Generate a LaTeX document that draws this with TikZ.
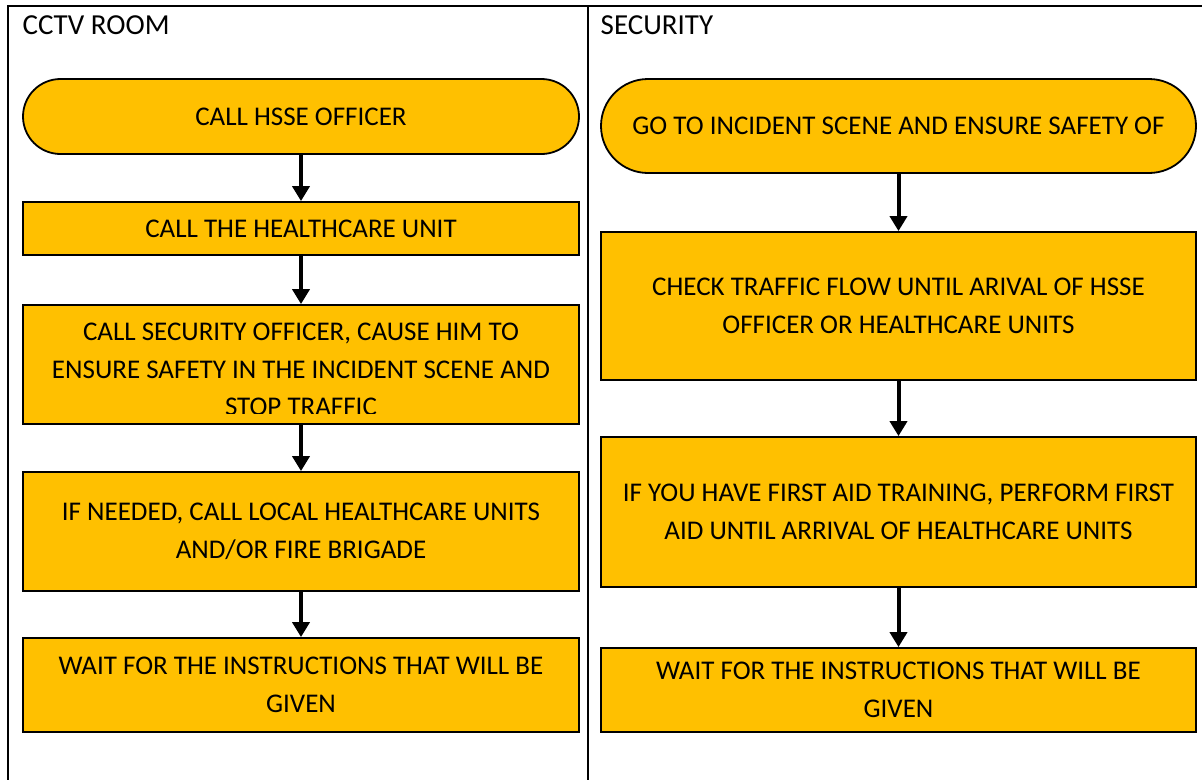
\documentclass[tikz,border=0pt]{standalone}
\usepackage{fontspec}
\setmainfont{Carlito}
\usetikzlibrary{arrows.meta}
\definecolor{gold}{HTML}{FFC000}
\tikzset{
  frameline/.style={line width=2pt, draw=black},
  boxnode/.style={draw=black, line width=1.8pt, fill=gold, align=center, inner sep=0pt,
    font=\fontsize{27}{37.5}\selectfont},
  txt/.style={align=center, inner sep=0pt, font=\fontsize{27}{37.5}\selectfont},
  header/.style={inner sep=0pt, font=\fontsize{29}{35}\selectfont, anchor=base west},
  flow/.style={line width=4pt, -{Triangle[width=17pt,length=15pt]}}
}
\begin{document}
\begin{tikzpicture}[x=1pt,y=-1pt]
\useasboundingbox (0,0) rectangle (1202,780);
% frame
\coordinate (tl) at (7,5.5);
\coordinate (tr) at (1202,5.5);
\coordinate (lb) at (8,780);
\coordinate (lt) at (8,5);
\coordinate (mt) at (587.5,5);
\coordinate (mb) at (587.5,780);
\draw[frameline] (tl) -- (tr);
\draw[frameline] (lt) -- (lb);
\draw[frameline] (mt) -- (mb);
% headers
\node[header] (h1) at (22.5,34.8) {CCTV ROOM};
\node[header] (h2) at (600.5,34.8) {SECURITY};
% left column
\node[boxnode, minimum width=556pt, minimum height=75pt, rounded corners=37.5pt] (p1) at (301,116.5) {CALL HSSE OFFICER};
\node[boxnode, minimum width=556pt, minimum height=53pt] (b2) at (301,228.5) {CALL THE HEALTHCARE UNIT};
\node[boxnode, minimum width=556pt, minimum height=119pt] (b3) at (301,364.5) {};
\begin{scope}
\clip (23,306) rectangle (579,413.5);
\node[txt, anchor=north] (t3) at (301,322.8) {CALL SECURITY OFFICER, CAUSE HIM TO\\ENSURE SAFETY IN THE INCIDENT SCENE AND\\STOP TRAFFIC};
\end{scope}
\node[boxnode, minimum width=556pt, minimum height=119pt] (b4) at (301,531.5) {IF NEEDED, CALL LOCAL HEALTHCARE UNITS\\AND/OR FIRE BRIGADE};
\node[boxnode, minimum width=556pt, minimum height=94pt] (b5) at (301,685) {WAIT FOR THE INSTRUCTIONS THAT WILL BE\\GIVEN};
\draw[flow] (p1) -- (b2);
\draw[flow] (b2) -- (b3);
\draw[flow] (b3) -- (b4);
\draw[flow] (b4) -- (b5);
% right column
\node[boxnode, minimum width=595pt, minimum height=94pt, rounded corners=47pt] (r1) at (898.5,126) {GO TO INCIDENT SCENE AND ENSURE SAFETY OF};
\node[boxnode, minimum width=595pt, minimum height=148pt] (r2) at (898.5,306) {CHECK TRAFFIC FLOW UNTIL ARIVAL OF HSSE\\OFFICER OR HEALTHCARE UNITS};
\node[boxnode, minimum width=595pt, minimum height=150pt] (r3) at (898.5,512) {IF YOU HAVE FIRST AID TRAINING, PERFORM FIRST\\AID UNTIL ARRIVAL OF HEALTHCARE UNITS};
\node[boxnode, minimum width=595pt, minimum height=84pt] (r4) at (898.5,690) {WAIT FOR THE INSTRUCTIONS THAT WILL BE\\GIVEN};
\draw[flow] (r1) -- (r2);
\draw[flow] (r2) -- (r3);
\draw[flow] (r3) -- (r4);
\end{tikzpicture}
\end{document}
